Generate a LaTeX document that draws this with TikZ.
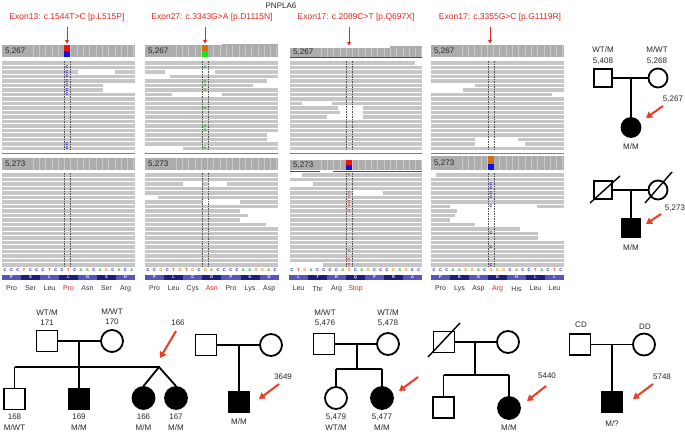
\documentclass[tikz,border=0pt]{standalone}
\usepackage{fontspec}
\setmainfont{Liberation Sans}
\usetikzlibrary{arrows.meta}
\definecolor{readc}{HTML}{C6C6C6}
\definecolor{hdrc}{HTML}{ACACAC}
\definecolor{tickc}{HTML}{CBCBCB}
\definecolor{dashc}{HTML}{505050}
\definecolor{redlab}{HTML}{E8241C}
\definecolor{arrowred}{HTML}{EF3B24}
\definecolor{seqA}{HTML}{1AA01A}
\definecolor{seqC}{HTML}{1A1AD0}
\definecolor{seqG}{HTML}{D08A10}
\definecolor{seqT}{HTML}{E01A1A}
\definecolor{aadark}{HTML}{1E1E78}
\definecolor{aalight}{HTML}{5555BB}
\definecolor{mutorange}{HTML}{D0700F}
\definecolor{mutgreen}{HTML}{1AE61A}
\definecolor{mutred}{HTML}{F01010}
\definecolor{mutblue}{HTML}{1010E0}
\tikzset{
  ped/.style={line width=1.8pt},
  male/.style={rectangle, draw, line width=1.8pt, minimum size=21pt, inner sep=0pt},
  female/.style={circle, draw, line width=1.8pt, minimum size=22pt, inner sep=0pt},
  aff/.style={fill=black},
  lab/.style={font=\fontsize{8}{8}\selectfont, inner sep=0pt, text=black!85},
  redarr/.style={draw=arrowred, line width=2pt, -{Triangle[length=6pt,width=7pt]}},
  smallarr/.style={draw=redlab, line width=0.9pt, -{Triangle[length=3.5pt,width=3.8pt]}},
  exlab/.style={font=\fontsize{8.5}{8.5}\selectfont, text=redlab, inner sep=0pt},
  aalab/.style={font=\fontsize{7}{7}\selectfont, text=black!80, inner sep=0pt},
  dashv/.style={draw=dashc, line width=0.5pt, dash pattern=on 1.5pt off 1pt},
  mutmark/.style={font=\fontsize{4}{4}\selectfont\bfseries, inner sep=0pt},
}
\newcommand\igvhead[5]{%
  \fill[hdrc] (#1,#3) rectangle (#2,#4);
  \pgfmathsetmacro\hs{#1+31}\pgfmathsetmacro\hn{#1+37.3}%
  \foreach \xx in {\hs,\hn,...,#2}{\draw[tickc,line width=0.7pt] (\xx,#3) -- (\xx,#4);}
  \node[anchor=west,font=\fontsize{8}{8}\selectfont,text=black!85,inner sep=0pt] at ({#1+3},{(#3+#4)/2}) {#5};
}
\newcommand\igvreads[4]{%
  \foreach \i in {1,...,#4}{\fill[readc] (#1,{#3+(\i-1)*4.5}) rectangle (#2,{#3+(\i-1)*4.5+3.6});}
}
\newcommand\rgap[4]{\fill[white] (#1,{#3+#4*4.5-0.1}) rectangle (#2,{#3+#4*4.5+3.7});}
\newcommand\mutm[5]{\node[mutmark,text=#4] at (#1,{#2+#3*4.5+1.8}) {#5};}
\newcommand\seqrow[3]{\foreach \c [count=\k] in {#3}{\node[font=\fontsize{4}{4}\selectfont\bfseries,text=seq\c,inner sep=0pt] at ({#1+(\k-0.5)*#2},270.5) {\c};}}
\newcommand\aabar[3]{%
  \foreach \a [count=\k] in {#3}{%
    \ifodd\k\relax\def\aacol{aalight}\else\def\aacol{aadark}\fi
    \fill[\aacol] ({#1+(\k-1)*#2},274.5) rectangle ({#1+\k*#2},279.5);
    \node[font=\fontsize{4}{4}\selectfont\bfseries,text=white,inner sep=0pt] at ({#1+(\k-0.5)*#2},277) {\a};}
}
\begin{document}
\begin{tikzpicture}[x=1pt,y=-1pt]
\useasboundingbox[fill=white] (0,0) rectangle (685,434);

\node[font=\fontsize{8}{8}\selectfont,inner sep=0pt,text=black!85] (gene) at (281,6) {PNPLA6};

% ---------------- Panel 1 ----------------
\node[exlab] (t1) at (67,17) {Exon13: c.1544T>C [p.L515P]};
\draw[smallarr] (67,27) -- (67,43.5);
\igvhead{2}{135}{45}{57}{5,267}
\fill[mutred] (64,45) rectangle (70,51);
\fill[mutblue] (64,51) rectangle (70,57);
\igvreads{2}{135}{61}{20}
\rgap{78}{115}{61}{2}
\rgap{103}{135}{61}{5}
\rgap{103}{135}{61}{6}
\foreach \r in {1,2,3,4,5,6,7,18,19}{\mutm{67}{61}{\r}{mutblue}{C}}
\draw[gray,line width=0.8pt] (2,153.5) -- (135,153.5);
\igvhead{2}{135}{158}{169.5}{5,273}
\igvreads{2}{135}{173}{21}
\draw[dashv] (64,61) -- (64,150);
\draw[dashv] (70,61) -- (70,150);
\draw[dashv] (64,173) -- (64,267);
\draw[dashv] (70,173) -- (70,267);
\seqrow{2}{6.33}{C,C,C,T,C,C,C,T,C,C,T,C,A,A,C,A,G,C,A,C,A}
\aabar{2}{19}{P,S,L,L,N,S,R}
\foreach \n/\col [count=\k] in {Pro/black!80,Ser/black!80,Leu/black!80,Pro/redlab,Asn/black!80,Ser/black!80,Arg/black!80}{\node[aalab,text=\col] (a1\k) at ({2+(\k-0.5)*19},288.5) {\n};}

% ---------------- Panel 2 ----------------
\node[exlab] (t2) at (212,17) {Exon27: c.3343G>A [p.D1115N]};
\draw[smallarr] (205,27) -- (205,43.5);
\igvhead{145}{278}{45}{57}{5,267}
\fill[hdrc] (222,44) rectangle (278,46);
\fill[mutorange] (202,45) rectangle (208,51);
\fill[mutgreen] (202,51) rectangle (208,57);
\igvreads{145}{278}{61}{20}
\rgap{165}{215}{61}{2}
\rgap{145}{170}{61}{3}
\rgap{267}{278}{61}{4}
\rgap{253}{278}{61}{5}
\rgap{172}{222}{61}{7}
\rgap{267}{278}{61}{16}
\rgap{267}{278}{61}{17}
\rgap{145}{183}{61}{19}
\foreach \r in {1,4,5,6,10,14,15,19}{\mutm{205}{61}{\r}{seqA}{A}}
\draw[gray,line width=0.8pt] (145,153.5) -- (278,153.5);
\igvhead{145}{278}{158}{169.5}{5,273}
\igvreads{145}{278}{173}{21}
\rgap{183}{202}{173}{2}
\rgap{208}{227}{173}{2}
\rgap{145}{158}{173}{5}
\rgap{203}{240}{173}{6}
\rgap{240}{278}{173}{8}
\rgap{248}{278}{173}{9}
\rgap{240}{278}{173}{10}
\rgap{266}{278}{173}{11}
\draw[dashv] (202,61) -- (202,150);
\draw[dashv] (208,61) -- (208,150);
\draw[dashv] (202,173) -- (202,267);
\draw[dashv] (208,173) -- (208,267);
\seqrow{145}{6.35}{C,C,G,C,T,G,T,G,C,G,A,C,C,C,C,A,A,G,G,A,C}
\aabar{145}{19.1}{P,L,C,D,P,K,D}
\foreach \n/\col [count=\k] in {Pro/black!80,Leu/black!80,Cys/black!80,Asn/redlab,Pro/black!80,Lys/black!80,Asp/black!80}{\node[aalab,text=\col] (a2\k) at ({145+(\k-0.5)*19.1},288.5) {\n};}

% ---------------- Panel 3 ----------------
\node[exlab] (t3) at (356,17) {Exon17: c.2089C>T [p.Q697X]};
\draw[smallarr] (349,27) -- (349,45.5);
\igvhead{290}{422}{48}{57}{5,267}
\fill[hdrc] (390,46) rectangle (422,48);
\draw[black!70,line width=1pt] (290,57.5) -- (422,57.5);
\igvreads{290}{422}{61}{20}
\rgap{415}{422}{61}{0}
\rgap{302}{332}{61}{9}
\rgap{338}{363}{61}{10}
\rgap{340}{363}{61}{11}
\rgap{327}{363}{61}{12}
\draw[gray,line width=0.8pt] (290,153.5) -- (422,153.5);
\igvhead{290}{422}{160}{170}{5,273}
\fill[mutred] (346,160) rectangle (352,165);
\fill[mutblue] (346,165) rectangle (352,170);
\draw[black!70,line width=1pt] (290,171) -- (320,171);
\draw[black!70,line width=1pt] (333,171) -- (422,171);
\igvreads{290}{422}{173}{21}
\rgap{290}{302}{173}{0}
\rgap{290}{313}{173}{2}
\rgap{353}{383}{173}{4}
\rgap{290}{323}{173}{20}
\foreach \r in {0,4,5,6,7,8,17,19,20}{\mutm{349}{173}{\r}{mutred}{T}}
\draw[dashv] (346,61) -- (346,150);
\draw[dashv] (352,61) -- (352,150);
\draw[dashv] (346,173) -- (346,267);
\draw[dashv] (352,173) -- (352,267);
\seqrow{289}{6.33}{C,T,G,A,C,C,C,C,A,G,C,A,G,C,C,C,G,A,G,C,C}
\aabar{289}{19}{L,T,R,Q,P,R,A}
\foreach \n/\col [count=\k] in {Leu/black!80,Thr/black!80,Arg/black!80,Stop/redlab}{\node[aalab,text=\col] (a3\k) at ({289+(\k-0.5)*19},288.5) {\n};}

% ---------------- Panel 4 ----------------
\node[exlab] (t4) at (500,17) {Exon17: c.3355G>C [p.G1119R]};
\draw[smallarr] (490,27) -- (490,43.5);
\igvhead{431}{564}{45}{57}{5,267}
\igvreads{431}{564}{61}{20}
\rgap{431}{475}{61}{5}
\rgap{431}{463}{61}{6}
\rgap{552}{564}{61}{7}
\rgap{475}{518}{61}{17}
\rgap{475}{525}{61}{18}
\draw[gray,line width=0.8pt] (431,153.5) -- (564,153.5);
\igvhead{431}{564}{156}{170}{5,273}
\fill[mutorange] (488,156) rectangle (494,163.5);
\fill[mutblue] (488,163.5) rectangle (494,170);
\igvreads{431}{564}{173}{21}
\rgap{431}{436}{173}{0}
\rgap{450}{537}{173}{7}
\rgap{457}{564}{173}{8}
\rgap{455}{564}{173}{9}
\rgap{450}{564}{173}{10}
\rgap{475}{564}{173}{11}
\rgap{520}{564}{173}{12}
\rgap{538}{564}{173}{13}
\rgap{538}{564}{173}{14}
\foreach \r in {2,3,4,5,7,13,16,20}{\mutm{491}{173}{\r}{mutblue}{C}}
\draw[dashv] (488,61) -- (488,150);
\draw[dashv] (494,61) -- (494,150);
\draw[dashv] (488,173) -- (488,267);
\draw[dashv] (494,173) -- (494,267);
\seqrow{431}{6.33}{C,C,C,A,A,G,G,A,C,G,G,G,C,A,C,C,T,A,C,T,C}
\aabar{431}{19}{P,K,D,G,H,L,L}
\foreach \n/\col [count=\k] in {Pro/black!80,Lys/black!80,Asp/black!80,Arg/redlab,His/black!80,Leu/black!80,Leu/black!80}{\node[aalab,text=\col] (a4\k) at ({431+(\k-0.5)*19},288.5) {\n};}

% ---------------- Top-right pedigree A ----------------
\node[lab] (lA1) at (603,50) {WT/M};
\node[lab] (lA2) at (603,61) {5,408};
\node[lab] (lB1) at (657,50) {M/WT};
\node[lab] (lB2) at (657,61) {5,268};
\node[male,minimum size=18pt] (tA) at (603,78) {};
\node[female,minimum size=19pt] (tB) at (658,78) {};
\draw[ped] (tA) -- (tB);
\coordinate (tm) at (631,78);
\node[female,aff,minimum size=19pt] (tC) at (631,127.5) {};
\draw[ped] (tm) -- (tC);
\node[lab] (lC) at (631,147) {M/M};
\node[lab] (lC2) at (673,99) {5,267};
\coordinate (ta1) at (663,106);
\coordinate (ta2) at (646,118);
\draw[redarr] (ta1) -- (ta2);

% ---------------- Top-right pedigree B ----------------
\node[male,minimum size=18pt] (tD) at (603,190) {};
\node[female,minimum size=19pt] (tE) at (658,190) {};
\draw[ped] (tD) -- (tE);
\coordinate (sD1) at (590,203); \coordinate (sD2) at (620,176);
\coordinate (sE1) at (645,203); \coordinate (sE2) at (672,172);
\draw[line width=1.4pt] (sD1) -- (sD2);
\draw[line width=1.4pt] (sE1) -- (sE2);
\coordinate (tm2) at (631,190);
\node[male,aff,minimum size=18pt] (tF) at (631,228) {};
\draw[ped] (tm2) -- (tF);
\node[lab] (lF) at (631,248) {M/M};
\node[lab] (lF2) at (675,208) {5,273};
\coordinate (tb1) at (661,214);
\coordinate (tb2) at (646,224);
\draw[redarr] (tb1) -- (tb2);

% ---------------- Bottom pedigree 1 ----------------
\node[lab] (l171a) at (47,313) {WT/M};
\node[lab] (l171b) at (47,323) {171};
\node[lab] (l170a) at (112,312) {M/WT};
\node[lab] (l170b) at (112,322) {170};
\node[male] (p171) at (47,341) {};
\node[female] (p170) at (112,341) {};
\draw[ped] (p171) -- (p170);
\coordinate (m1) at (79,341);
\coordinate (s1) at (79,367);
\coordinate (s1l) at (14.5,367);
\coordinate (s1r) at (159,367);
\draw[ped] (m1) -- (s1);
\draw[ped] (s1l) -- (s1r);
\node[male] (p168) at (14.5,399) {};
\node[male,aff] (p169) at (79,399) {};
\node[female,aff] (p166) at (143.5,398) {};
\node[female,aff] (p167) at (176,398) {};
\draw[ped] (s1l) -- (p168);
\draw[ped] (s1) -- (p169);
\draw[ped] (p166.north) -- (s1r) -- (p167.north);
\node[lab] (l168a) at (14.5,417) {168};
\node[lab] (l168b) at (14.5,427.5) {M/WT};
\node[lab] (l169a) at (79,417) {169};
\node[lab] (l169b) at (79,427.5) {M/M};
\node[lab] (l166a) at (143.5,417) {166};
\node[lab] (l166b) at (143.5,427.5) {M/M};
\node[lab] (l167a) at (176,417) {167};
\node[lab] (l167b) at (176,427.5) {M/M};
\node[lab] (l166p) at (178,323) {166};
\coordinate (b1a) at (176,331);
\coordinate (b1b) at (160,358);
\draw[redarr] (b1a) -- (b1b);

% ---------------- Bottom pedigree 2 ----------------
\node[male] (q1) at (206,345) {};
\node[female] (q2) at (271,345) {};
\draw[ped] (q1) -- (q2);
\coordinate (m2) at (239,345);
\node[male,aff] (q3) at (239,402) {};
\draw[ped] (m2) -- (q3);
\node[lab] (lq3) at (239,422) {M/M};
\node[lab] (lq3p) at (283,377) {3649};
\coordinate (b2a) at (279,384);
\coordinate (b2b) at (259,399);
\draw[redarr] (b2a) -- (b2b);

% ---------------- Bottom pedigree 3 ----------------
\node[lab] (lr1a) at (325,313) {M/WT};
\node[lab] (lr1b) at (325,323) {5,476};
\node[lab] (lr2a) at (388,313) {WT/M};
\node[lab] (lr2b) at (388,323) {5,478};
\node[male] (r1) at (324,344) {};
\node[female] (r2) at (388,344) {};
\draw[ped] (r1) -- (r2);
\coordinate (m3) at (357,344);
\coordinate (s3) at (357,369);
\coordinate (s3l) at (336,369);
\coordinate (s3r) at (382,369);
\draw[ped] (m3) -- (s3);
\draw[ped] (s3l) -- (s3r);
\node[female] (r3) at (336,398) {};
\node[female,aff] (r4) at (382,398) {};
\draw[ped] (s3l) -- (r3);
\draw[ped] (s3r) -- (r4);
\node[lab] (lr3a) at (336,417) {5,479};
\node[lab] (lr3b) at (336,427.5) {WT/M};
\node[lab] (lr4a) at (382,417) {5,477};
\node[lab] (lr4b) at (382,427.5) {M/M};
\coordinate (b3a) at (418,377);
\coordinate (b3b) at (399,391);
\draw[redarr] (b3a) -- (b3b);

% ---------------- Bottom pedigree 4 ----------------
\node[male] (u1) at (444,342) {};
\node[female] (u2) at (508,342) {};
\draw[ped] (u1) -- (u2);
\coordinate (su1) at (428,357); \coordinate (su2) at (460,323);
\draw[line width=1.4pt] (su1) -- (su2);
\coordinate (m4) at (475,342);
\coordinate (s4) at (475,375);
\coordinate (s4l) at (443.5,375);
\coordinate (s4r) at (509,375);
\draw[ped] (m4) -- (s4);
\draw[ped] (s4l) -- (s4r);
\node[male] (u3) at (443.5,407.5) {};
\node[female,aff] (u4) at (509,408) {};
\draw[ped] (s4l) -- (u3);
\draw[ped] (s4r) -- (u4);
\node[lab] (lu4) at (509,427.5) {M/M};
\node[lab] (lu4p) at (547,376) {5440};
\coordinate (b4a) at (546,386);
\coordinate (b4b) at (527,401);
\draw[redarr] (b4a) -- (b4b);

% ---------------- Bottom pedigree 5 ----------------
\node[lab] (lv1) at (581,325) {CD};
\node[lab] (lv2) at (645,327) {DD};
\node[male] (v1) at (580,344.5) {};
\node[female] (v2) at (644,344.5) {};
\draw[ped] (v1) -- (v2);
\coordinate (m5) at (612,344.5);
\node[male,aff] (v3) at (612,402) {};
\draw[ped] (m5) -- (v3);
\node[lab] (lv3) at (612,424) {M/?};
\node[lab] (lv3p) at (662,377) {5748};
\coordinate (b5a) at (653,384);
\coordinate (b5b) at (633,399);
\draw[redarr] (b5a) -- (b5b);
\end{tikzpicture}
\end{document}
